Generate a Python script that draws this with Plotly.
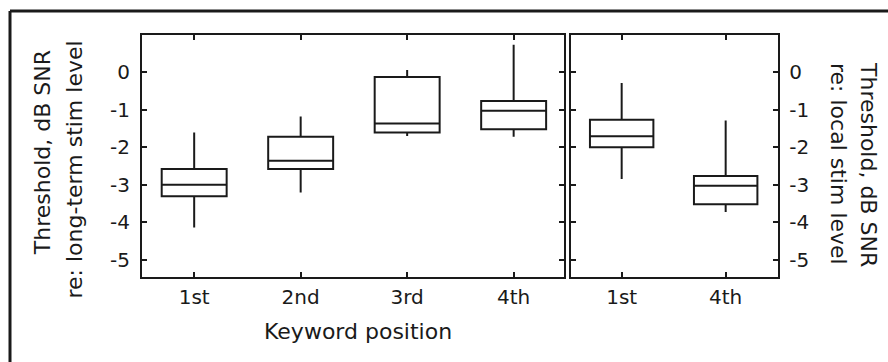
import plotly.graph_objects as go

W, H = 888, 362

# ---- data ----
left_labels = ["1st", "2nd", "3rd", "4th"]
left_upper = [-1.61, -1.18, 0.06, 0.73]
left_q3 = [-2.58, -1.72, -0.13, -0.77]
left_median = [-3.00, -2.36, -1.37, -1.03]
left_q1 = [-3.31, -2.58, -1.61, -1.52]
left_lower = [-4.14, -3.21, -1.70, -1.72]

right_labels = ["1st", "4th"]
right_upper = [-0.29, -1.29]
right_q3 = [-1.27, -2.77]
right_median = [-1.71, -3.03]
right_q1 = [-2.00, -3.52]
right_lower = [-2.85, -3.73]

y_ticks = [0, -1, -2, -3, -4, -5]
y_tick_labels = ["0", "-1", "-2", "-3", "-4", "-5"]

left_pos = list(range(1, len(left_labels) + 1))
right_pos = list(range(1, len(right_labels) + 1))

INK = "#1a1a1a"
FONT = "DejaVu Sans"

def px(x):
    return x / W

def py(y):
    return 1 - y / H

fig = go.Figure()

box_style = dict(
    fillcolor="white",
    line=dict(color=INK, width=2),
    whiskerwidth=0,
    width=0.61,
    boxpoints=False,
    showlegend=False,
    hoverinfo="skip",
)

fig.add_trace(go.Box(
    x=left_pos, q1=left_q1, median=left_median, q3=left_q3,
    lowerfence=left_lower, upperfence=left_upper,
    xaxis="x", yaxis="y", **box_style))

fig.add_trace(go.Box(
    x=right_pos, q1=right_q1, median=right_median, q3=right_q3,
    lowerfence=right_lower, upperfence=right_upper,
    xaxis="x2", yaxis="y2", **box_style))

ax_common = dict(
    showline=True, linecolor=INK, linewidth=2, mirror="allticks",
    ticks="inside", ticklen=5, tickwidth=1.5, tickcolor=INK,
    showgrid=False, zeroline=False, fixedrange=True,
    tickfont=dict(family=FONT, size=20, color=INK),
)

y_dom = [py(277.3), py(35.3)]
y_rng = [-5.47, 0.985]

fig.update_layout(
    width=W, height=H,
    margin=dict(l=0, r=0, t=0, b=0),
    paper_bgcolor="white", plot_bgcolor="white",
    xaxis=dict(domain=[px(142), px(563.7)], range=[0.51, 4.47],
               tickvals=left_pos, ticktext=left_labels, anchor="y",
               ticklabelstandoff=1, **ax_common),
    yaxis=dict(domain=y_dom, range=y_rng, tickvals=y_ticks, ticktext=y_tick_labels,
               anchor="x", side="left", ticklabelstandoff=6, **ax_common),
    xaxis2=dict(domain=[px(570.5), px(778.3)], range=[0.508, 2.506],
                tickvals=right_pos, ticktext=right_labels, anchor="y2",
                ticklabelstandoff=1, **ax_common),
    yaxis2=dict(domain=y_dom, range=y_rng, tickvals=y_ticks, ticktext=y_tick_labels,
                anchor="x2", side="right", ticklabelstandoff=5, **ax_common),
)

# outer frame (top and left edges)
fig.add_shape(type="line", xref="paper", yref="paper",
              x0=px(10), x1=1.0, y0=py(11), y1=py(11),
              line=dict(color=INK, width=3))
fig.add_shape(type="line", xref="paper", yref="paper",
              x0=px(10), x1=px(10), y0=py(11), y1=0.0,
              line=dict(color=INK, width=3))

tfont = dict(family=FONT, size=22, color=INK)
ann = [
    ("Threshold, dB SNR", 42.7, 152.5, -90),
    ("re: long-term stim level", 74, 169.5, -90),
    ("Threshold, dB SNR", 868, 164, 90),
    ("re: local stim level", 838, 164, 90),
    ("Keyword position", 358, 331, 0),
]
for text, x, y, ang in ann:
    fig.add_annotation(text=text, x=px(x), y=py(y), xref="paper", yref="paper",
                       showarrow=False, textangle=ang, font=tfont,
                       xanchor="center", yanchor="middle")

fig.write_html("out.html")
